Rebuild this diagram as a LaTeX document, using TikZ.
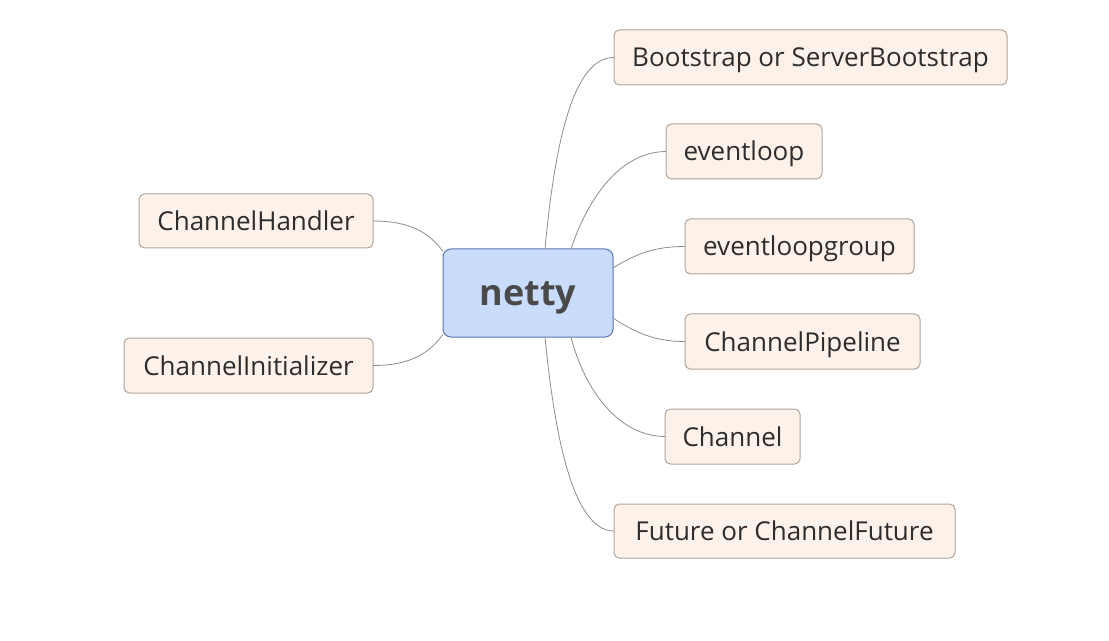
\documentclass[tikz,border=0pt]{standalone}
\usepackage{fontspec}
\setmainfont{Open Sans}
\usetikzlibrary{calc}
\definecolor{leaffill}{HTML}{FDF2E9}
\definecolor{leafdraw}{HTML}{B0A49B}
\definecolor{leaftext}{HTML}{2D2D2D}
\definecolor{rootfill}{HTML}{CADCFC}
\definecolor{rootdraw}{HTML}{5B76AD}
\definecolor{roottext}{HTML}{4A4A4A}
\definecolor{linkc}{HTML}{8C8C8C}
\tikzset{
  leaf/.style={draw=leafdraw, fill=leaffill, text=leaftext, rounded corners=4pt,
    line width=0.75pt, inner sep=0pt, outer sep=0pt, minimum height=41.25pt,
    text height=14.25pt, text depth=0pt,
    font=\fontsize{19.5}{23}\selectfont},
  root/.style={draw=rootdraw, fill=rootfill, text=roottext, rounded corners=6pt,
    line width=0.75pt, inner sep=0pt, outer sep=0pt, minimum width=127.5pt,
    minimum height=66pt, text height=19pt, text depth=0pt,
    font=\fontsize{27}{32}\selectfont\bfseries},
  link/.style={draw=linkc, line width=0.6pt}
}
\begin{document}
\begin{tikzpicture}[x=0.75pt,y=-0.75pt]
\useasboundingbox (0,0) rectangle (1109,641);
\node[root] (netty) at (528,293) {netty};
\node[leaf, minimum width=294.75pt] (boot) at (810.5,57.5) {Bootstrap or ServerBootstrap};
\node[leaf, minimum width=117pt] (evl) at (744,151.5) {eventloop};
\node[leaf, minimum width=171.75pt] (evlg) at (799.5,246.5) {eventloopgroup};
\node[leaf, minimum width=176.25pt] (pipe) at (802.5,341.5) {ChannelPipeline};
\node[leaf, minimum width=101.25pt] (chan) at (732.5,436.5) {Channel};
\node[leaf, minimum width=255.75pt, minimum height=40.5pt] (fut) at (784.5,531) {Future or ChannelFuture};
\node[leaf, minimum width=175.5pt, minimum height=40.5pt] (hand) at (256,221) {ChannelHandler};
\node[leaf, minimum width=186.75pt] (init) at (248.5,365.5) {ChannelInitializer};

\draw[link] ($(netty.north)+(17,0)$) .. controls (555,140) and (574,57) .. (boot.west);
\draw[link] ($(netty.north)+(43,0)$) .. controls (588,198) and (620,152) .. (evl.west);
\draw[link] ($(netty.east)+(0,-25)$) .. controls (640,251) and (660,246.5) .. (evlg.west);
\draw[link] ($(netty.east)+(0,25)$) .. controls (640,336) and (660,341.5) .. (pipe.west);
\draw[link] ($(netty.south)+(43,0)$) .. controls (585,392) and (620,436.5) .. (chan.west);
\draw[link] ($(netty.south)+(17,0)$) .. controls (555,440) and (574,531) .. (fut.west);
\draw[link] (netty.154) .. controls (430,234) and (412,221) .. (hand.east);
\draw[link] (netty.206) .. controls (430,352) and (412,365.5) .. (init.east);
\end{tikzpicture}
\end{document}
